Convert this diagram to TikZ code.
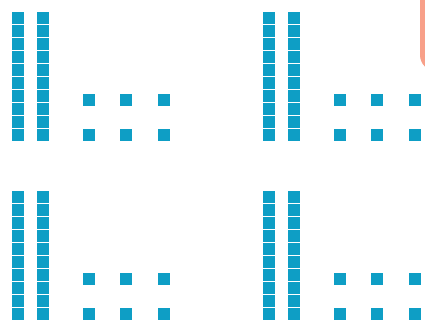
\documentclass[tikz,border=0pt]{standalone}
\definecolor{tileblue}{HTML}{0E9EC5}
\definecolor{salmon}{HTML}{F8A089}
\tikzset{
  tile/.style={fill=tileblue, draw=none, inner sep=0pt, minimum width=12pt, minimum height=12pt, anchor=north west},
}
\begin{document}
\begin{tikzpicture}[x=1pt,y=-1pt]
\useasboundingbox (0,0) rectangle (425,323);
\fill[white] (0,0) rectangle (425,323);
\fill[salmon, rounded corners=16pt] (420,-20) rectangle (460,71);
\foreach \ox/\oy/\p in {0/0/a,251/0/b,0/179/c,251/179/d}{
  \foreach \k in {0,...,9}{
    \node[tile] (\p-l\k) at (\ox+12,\oy+12+13*\k) {};
    \node[tile] (\p-r\k) at (\ox+37,\oy+12+13*\k) {};
  }
  \foreach \x/\n in {83/1,120/2,158/3}{
    \node[tile] (\p-u\n) at (\ox+\x,\oy+94) {};
    \node[tile] (\p-d\n) at (\ox+\x,\oy+129) {};
  }
}
\end{tikzpicture}
\end{document}
